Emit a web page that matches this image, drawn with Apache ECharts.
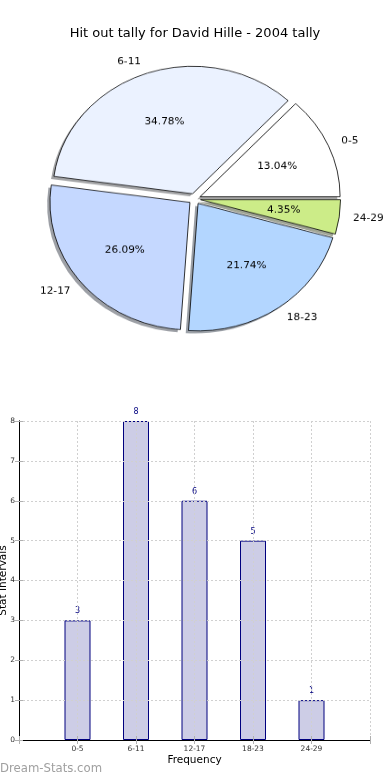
<!DOCTYPE html>
<html><head><meta charset="utf-8">
<script src="https://cdn.jsdelivr.net/npm/echarts@6/dist/echarts.min.js"></script>
<style>
html,body{margin:0;padding:0;background:#fff;}
#main{position:absolute;left:0;top:0;width:390px;height:780px;}
#pie{position:absolute;left:0;top:0;width:390px;height:400px;transform:scaleY(0.9107);transform-origin:0 198.9px;}
</style></head><body>
<div id="main"></div><div id="pie"></div>
<script>
const titleText = 'Hit out tally for David Hille - 2004 tally';
const categories = ['0-5', '6-11', '12-17', '18-23', '24-29'];
const values = [3, 8, 6, 5, 1];
const pieColors = ['#ffffff', '#ebf2ff', '#c5d8ff', '#b3d6ff', '#ccec88'];
const yTicks = [0, 1, 2, 3, 4, 5, 6, 7, 8];
const xName = 'Frequency';
const yName = 'Stat Intervals';
const watermark = 'Dream-Stats.com';

const FF = 'DejaVu Sans';
const total = values.reduce((a, b) => a + b, 0);

function shadowOf(hex) {
  const n = parseInt(hex.slice(1), 16);
  const r = Math.round(((n >> 16) & 255) * 0.3), g = Math.round(((n >> 8) & 255) * 0.3), b = Math.round((n & 255) * 0.3);
  return 'rgba(' + r + ',' + g + ',' + b + ',0.5)';
}

const pie = echarts.init(document.getElementById('pie'), null, {renderer: 'canvas'});
const pieCenter = [194.6, 198.9];
const shadowCenter = [194.6 - 2.8, 198.9 + 2.8];
const R = 140;
const common = {type: 'pie', radius: [0, R], startAngle: 0, clockwise: false,
  selectedMode: 'multiple', selectedOffset: 6, avoidLabelOverlap: false, silent: true, emphasis: {disabled: true}};
pie.setOption({
  animation: false,
  backgroundColor: 'transparent',
  series: [
    Object.assign({}, common, {
      center: shadowCenter, z: 1,
      data: categories.map((c, i) => ({name: c, value: values[i], selected: true, itemStyle: {color: shadowOf(pieColors[i])}})),
      itemStyle: {borderWidth: 0},
      label: {show: false}, labelLine: {show: false}
    }),
    Object.assign({}, common, {
      center: pieCenter, z: 2,
      data: categories.map((c, i) => ({name: c, value: values[i], selected: true, itemStyle: {color: pieColors[i]}})),
      itemStyle: {borderColor: '#000', borderWidth: 0.8},
      label: {show: true, position: 'outside', color: '#000', fontSize: 10.5, fontFamily: FF, distanceToLabelLine: 0},
      labelLine: {show: false, length: 14, length2: 0}
    }),
    Object.assign({}, common, {
      center: pieCenter, radius: [22, R], z: 5,
      data: categories.map((c, i) => ({name: c, value: values[i], selected: true})),
      itemStyle: {color: 'rgba(0,0,0,0)', borderWidth: 0},
      label: {show: true, position: 'inside', color: '#000', fontSize: 10.5, fontFamily: FF,
        formatter: p => (p.value / total * 100).toFixed(2) + '%'},
      labelLine: {show: false}
    })
  ]
});

const main = echarts.init(document.getElementById('main'), null, {renderer: 'canvas'});
const dotted = {type: [2, 2], color: '#d0d0d0', width: 1};
const tick = {show: true, inside: true, length: 4, lineStyle: {color: '#b0b0b0'}};
const frame = {show: true, lineStyle: {color: '#000', width: 1}};
const xMax = categories.length + 1;
main.setOption({
  animation: false,
  backgroundColor: '#fff',
  title: {text: titleText, left: 'center', top: 22, textStyle: {fontSize: 13, fontWeight: 'normal', color: '#000', fontFamily: FF}},
  grid: {left: 19, top: 421, width: 351, height: 319, containLabel: false, outerBoundsMode: 'none'},
  xAxis: [
    {type: 'value', min: 0, max: xMax, interval: 1, position: 'bottom', z: 3,
      axisLine: frame, axisTick: tick,
      axisLabel: {formatter: v => categories[v - 1] || '', fontSize: 7.5, color: '#333', margin: 5, fontFamily: FF},
      splitLine: {show: true, lineStyle: dotted},
      name: xName, nameLocation: 'middle', nameGap: 15, nameMoveOverlap: false,
      nameTextStyle: {fontSize: 10.5, color: '#000', fontFamily: FF}},
    {type: 'value', min: 0, max: xMax, interval: 1, position: 'top', z: 3,
      axisLine: frame, axisTick: tick, axisLabel: {show: false}, splitLine: {show: false}}
  ],
  yAxis: [
    {type: 'value', min: yTicks[0], max: yTicks[yTicks.length - 1], interval: 1, position: 'left', z: 3,
      axisLine: frame, axisTick: tick,
      axisLabel: {fontSize: 7.5, color: '#333', margin: 4, fontFamily: FF},
      splitLine: {show: true, lineStyle: dotted},
      name: yName, nameLocation: 'middle', nameGap: 10, nameMoveOverlap: false,
      nameTextStyle: {fontSize: 10.5, color: '#000', fontFamily: FF}},
    {type: 'value', min: yTicks[0], max: yTicks[yTicks.length - 1], interval: 1, position: 'right', z: 3,
      axisLine: frame, axisTick: tick, axisLabel: {show: false}, splitLine: {show: false}}
  ],
  graphic: [
    {type: 'text', left: 0, top: 763, style: {text: watermark, fill: '#a0a0a0', font: '11.7px "DejaVu Sans"'}}
  ],
  series: [
    {type: 'bar', xAxisIndex: 0, yAxisIndex: 0, z: 1,
      data: values.map((v, i) => [i + 1, v]), barWidth: 26,
      itemStyle: {color: '#cdcde6', borderColor: '#00007f', borderWidth: 1},
      label: {show: true, position: 'top', distance: 5, color: '#00007f', fontSize: 8, fontFamily: FF}}
  ]
});
</script>
</body></html>
